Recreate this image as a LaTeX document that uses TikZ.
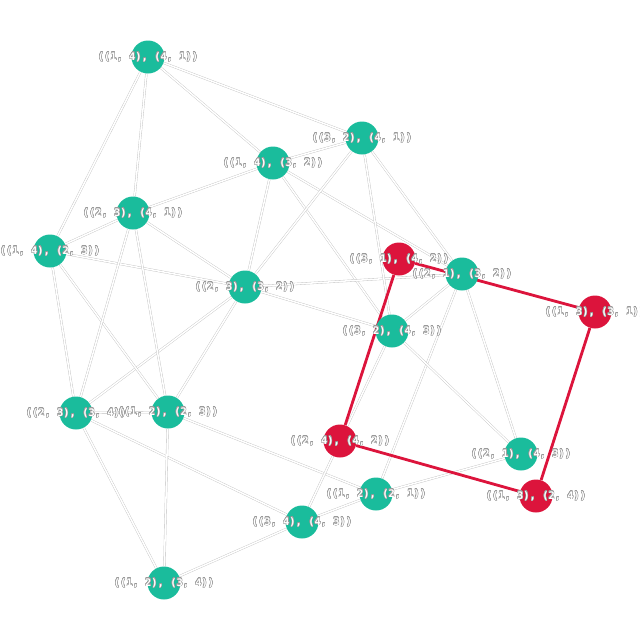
\documentclass[tikz,border=0pt]{standalone}
\usepackage{fontspec}
\usepackage{tikz}
\usetikzlibrary{backgrounds}
\usepackage{contour}
\contourlength{0.3pt}
\newfontfamily\lblfont{DejaVu Sans Mono}
\definecolor{teal1}{HTML}{1ABC9C}
\definecolor{crim}{HTML}{DC143C}

\begin{document}
\begin{tikzpicture}[x=0.025cm, y=-0.025cm,
    vtx/.style={circle, minimum size=0.825cm, inner sep=0pt},
    ok/.style={vtx, fill=teal1},
    bad/.style={vtx, fill=crim},
    lbl/.style={text=white, inner sep=0pt,
                font=\lblfont\bfseries\fontsize{7.4}{8}\selectfont},
    link/.style={draw=black!25, line width=0.25pt, double=white, double distance=1.1pt},
    cyc/.style={draw=crim, line width=2pt}]
          \useasboundingbox (0,0) rectangle (640,640);
          % vertices
          \node[ok]  (n1441) at (148,57)  {};
          \node[ok]  (n3241) at (362,138) {};
          \node[ok]  (n1432) at (273,163) {};
          \node[ok]  (n2341) at (133,213) {};
          \node[ok]  (n1423) at (50,251)  {};
          \node[ok]  (n2332) at (245,287) {};
          \node[bad] (n3142) at (399,259) {};
          \node[ok]  (n2132) at (462,274) {};
          \node[bad] (n1331) at (595,312) {};
          \node[ok]  (n3243) at (392,331) {};
          \node[ok]  (n2334) at (76,413)  {};
          \node[ok]  (n1223) at (168,412) {};
          \node[bad] (n2442) at (340,441) {};
          \node[ok]  (n2143) at (521,454) {};
          \node[ok]  (n1221) at (376,494) {};
          \node[bad] (n1324) at (536,496) {};
          \node[ok]  (n3443) at (302,522) {};
          \node[ok]  (n1234) at (164,583) {};
          \begin{scope}[on background layer]
          % gray edges
          \path[link] (n1441) -- (n1423) (n1441) -- (n2341) (n1441) -- (n1432) (n1441) -- (n3241);
          \path[link] (n1432) -- (n2341) (n1432) -- (n3241) (n1432) -- (n2332) (n1432) -- (n3243) (n1432) -- (n2132);
          \path[link] (n2332) -- (n3241) (n2332) -- (n1423) (n2332) -- (n2341) (n2332) -- (n2132)
                      (n2332) -- (n3243) (n2332) -- (n2334) (n2332) -- (n1223);
          \path[link] (n1423) -- (n2341) (n1423) -- (n2334) (n1423) -- (n1223);
          \path[link] (n2341) -- (n2334) (n2341) -- (n1223);
          \path[link] (n2334) -- (n1223) (n2334) -- (n3443) (n2334) -- (n1234);
          \path[link] (n1223) -- (n1234) (n1223) -- (n1221) (n1234) -- (n3443);
          \path[link] (n3241) -- (n3243) (n3241) -- (n2132);
          \path[link] (n2132) -- (n2143) (n2132) -- (n1221) (n2132) -- (n3243);
          \path[link] (n3243) -- (n2143) (n3243) -- (n2442) (n2442) -- (n3443);
          \path[link] (n3443) -- (n1221) (n1221) -- (n2143);
          % red cycle
          \draw[cyc] (n3142) -- (n1331) -- (n1324) -- (n2442) -- (n3142);
          \end{scope}
          % labels
          \node[lbl] (t1441) at (n1441) {\contour{black!40}{((1, 4), (4, 1))}};
          \node[lbl] (t3241) at (n3241) {\contour{black!40}{((3, 2), (4, 1))}};
          \node[lbl] (t1432) at (n1432) {\contour{black!40}{((1, 4), (3, 2))}};
          \node[lbl] (t2341) at (n2341) {\contour{black!40}{((2, 3), (4, 1))}};
          \node[lbl] (t1423) at (n1423) {\contour{black!40}{((1, 4), (2, 3))}};
          \node[lbl] (t2332) at (n2332) {\contour{black!40}{((2, 3), (3, 2))}};
          \node[lbl] (t3142) at (n3142) {\contour{black!40}{((3, 1), (4, 2))}};
          \node[lbl] (t2132) at (n2132) {\contour{black!40}{((2, 1), (3, 2))}};
          \node[lbl] (t1331) at (n1331) {\contour{black!40}{((1, 3), (3, 1))}};
          \node[lbl] (t3243) at (n3243) {\contour{black!40}{((3, 2), (4, 3))}};
          \node[lbl] (t2334) at (n2334) {\contour{black!40}{((2, 3), (3, 4))}};
          \node[lbl] (t1223) at (n1223) {\contour{black!40}{((1, 2), (2, 3))}};
          \node[lbl] (t2442) at (n2442) {\contour{black!40}{((2, 4), (4, 2))}};
          \node[lbl] (t2143) at (n2143) {\contour{black!40}{((2, 1), (4, 3))}};
          \node[lbl] (t1221) at (n1221) {\contour{black!40}{((1, 2), (2, 1))}};
          \node[lbl] (t1324) at (n1324) {\contour{black!40}{((1, 3), (2, 4))}};
          \node[lbl] (t3443) at (n3443) {\contour{black!40}{((3, 4), (4, 3))}};
          \node[lbl] (t1234) at (n1234) {\contour{black!40}{((1, 2), (3, 4))}};
        \end{tikzpicture}
\end{document}
